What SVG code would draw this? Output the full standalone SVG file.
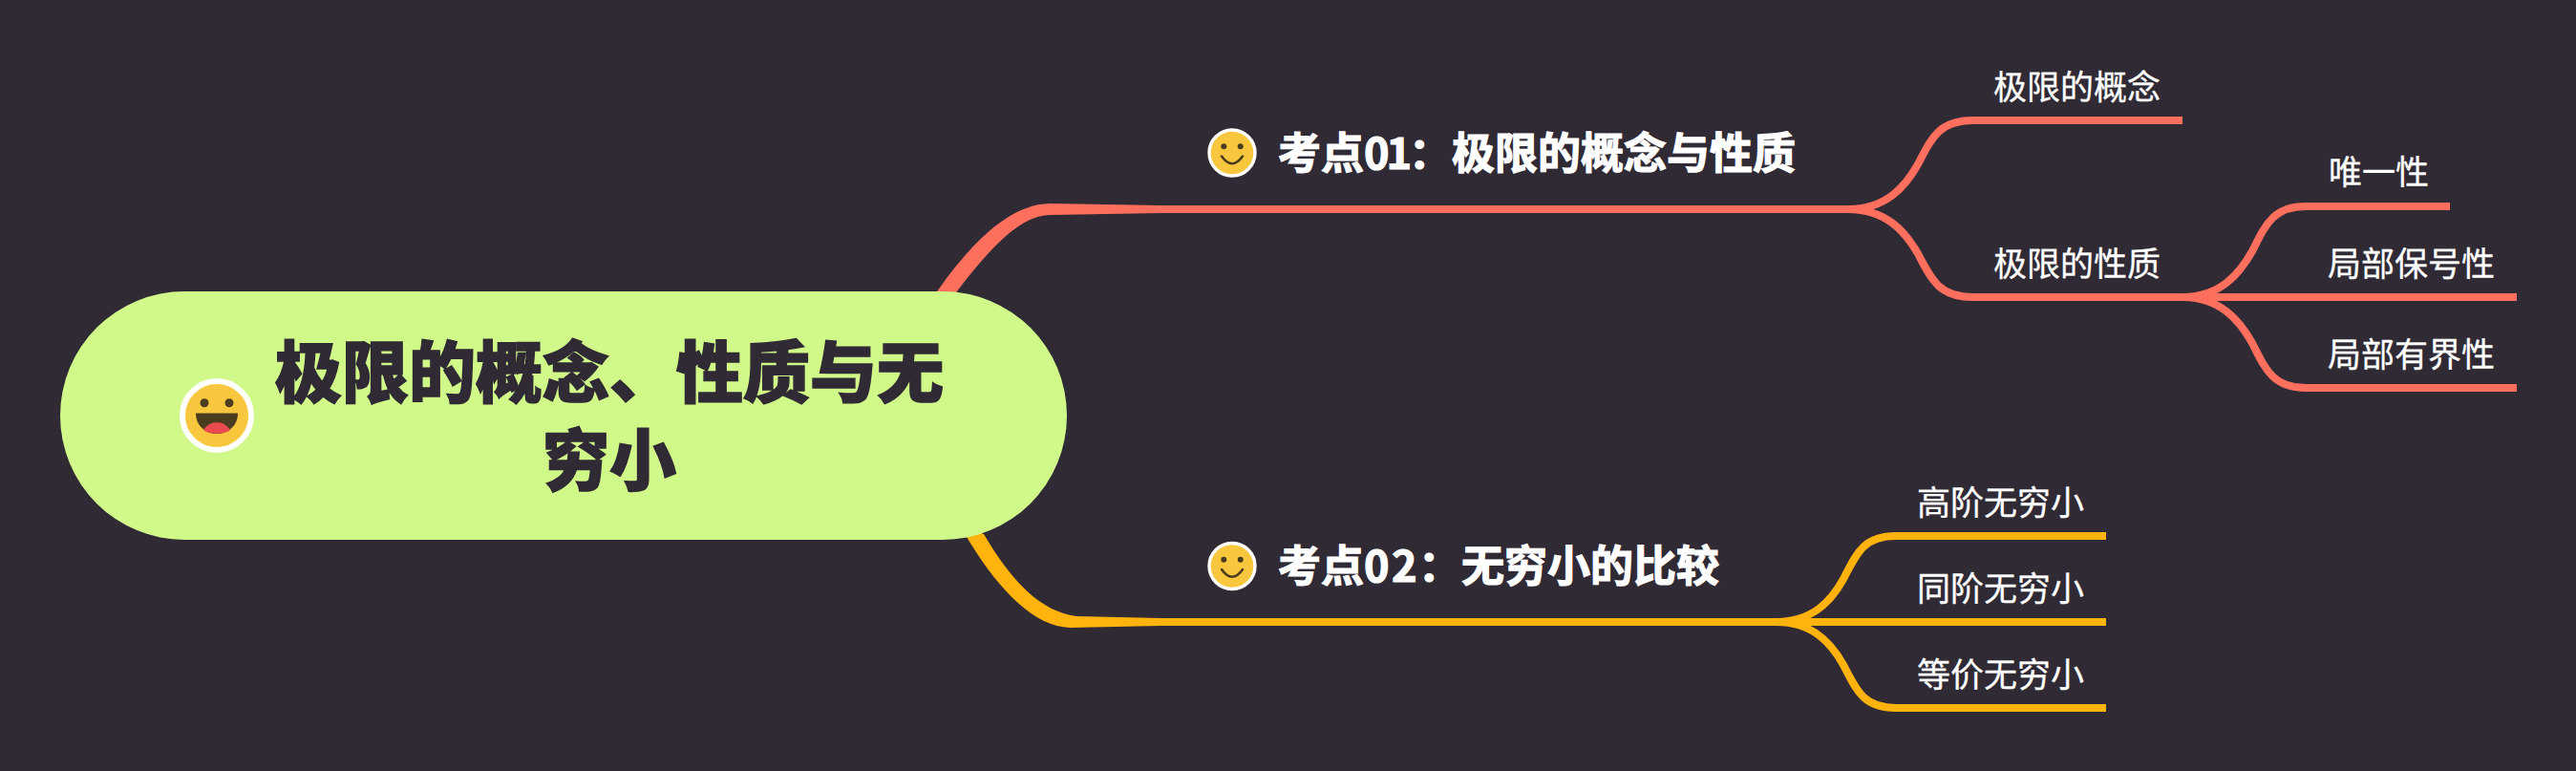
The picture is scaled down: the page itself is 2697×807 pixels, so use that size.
<svg xmlns="http://www.w3.org/2000/svg" width="2697" height="807" viewBox="0 0 2697 807">
<style>
text{font-family:"Noto Sans CJK SC","Noto Sans",sans-serif}
.root{font-size:70px;font-weight:900;fill:#302a35;stroke:#302a35;stroke-width:1.500px;text-anchor:middle}
.topic{font-size:45px;font-weight:700;fill:#fff;stroke:#fff;stroke-width:1.200px}
.leaf{font-size:35px;font-weight:400;fill:#fff;stroke:#fff;stroke-width:.3px}
.r{stroke:#ff6f5e}.y{stroke:#ffb30c}
.c path{fill:none;stroke-width:8}
.face{fill:#f9c73d;stroke:#fff}
.dark{fill:#4a3c1e}
</style>
<defs>
<g id="smile"><circle class="face" r="24" stroke-width="3.400"/><circle class="dark" cx="-8.700" cy="-6.700" r="3"/><circle class="dark" cx="8.700" cy="-6.700" r="3"/><path d="M-11,3.500Q0,19 11,3.500" fill="none" stroke="#4a3c1e" stroke-width="2.600" stroke-linecap="round"/></g>
</defs>
<rect width="2697" height="807" fill="#302a35"/>
<g id="connectors" class="c">
<path d="M975,314C1018,250 1060,213 1100,213L1215,215V223L1100,225C1070,225 1040,255 1002,305L995,318Z" style="fill:#ff6f5e;stroke:none"/>
<path d="M1005,550C1040,612 1080,656 1120,657L1215,655V647L1127,645C1090,640 1060,610 1030,559Z" style="fill:#ffb30c;stroke:none"/>
<path class="r" d="M1215,219H1935"/>
<path class="r" d="M1935,219C1975,219 1995,195 2008,172C2022,145 2030,126 2065,126H2285"/>
<path class="r" d="M1935,219C1975,219 1995,243 2008,265.500C2022,292 2030,311 2065,311H2285"/>
<path class="r" d="M2285,311C2325,311 2345,286 2358,263C2372,235 2380,216 2414,216H2565"/>
<path class="r" d="M2285,311H2635"/>
<path class="r" d="M2285,311C2325,311 2345,336 2358,359C2372,387 2380,406 2414,406H2635"/>
<path class="y" d="M1215,651H1860"/>
<path class="y" d="M1860,651C1898.500,651 1918,628 1930,606C1944,579 1951,561 1985,561H2205"/>
<path class="y" d="M1860,651H2205"/>
<path class="y" d="M1860,651C1898.500,651 1918,674 1930,696C1944,723 1951,741 1985,741H2205"/>
</g>
<g id="root">
<rect x="63" y="305" width="1054" height="260" rx="130" fill="#d1f98a"/>
<g transform="translate(227,435)"><circle r="36" fill="#f9c73d" stroke="#fff" stroke-width="6"/><circle class="dark" cx="-13" cy="-13.300" r="4.500"/><circle class="dark" cx="13" cy="-13.300" r="4.500"/><path class="dark" d="M-22,-2.500H22C22,12 10,19 0,19S-22,12 -22,-2.500Z"/><path d="M-14,15C-10,9 -5,7.300 0,7.300S10,9 14,15C9,20 -9,20 -14,15Z" fill="#eb4b4f"/></g>
<text class="root" x="638" y="416">极限的概念、性质与无</text>
<text class="root" x="638" y="508">穷小</text>
</g>
<g id="topic1"><use href="#smile" x="1290" y="160"/><text class="topic" x="1338" y="177">考点<tspan letter-spacing="-3">01</tspan><tspan x="1475">：</tspan><tspan x="1520">极限的概念与性质</tspan></text></g>
<g id="topic2"><use href="#smile" x="1290" y="592.500"/><text class="topic" x="1338" y="609">考点<tspan letter-spacing="2.500">02</tspan><tspan x="1485">：</tspan><tspan x="1530">无穷小的比较</tspan></text></g>
<g id="n1"><text class="leaf" x="2087" y="104">极限的概念</text></g>
<g id="n2"><text class="leaf" x="2087" y="289">极限的性质</text></g>
<g id="n3"><text class="leaf" x="2438" y="193">唯一性</text></g>
<g id="n4"><text class="leaf" x="2437" y="289">局部保号性</text></g>
<g id="n5"><text class="leaf" x="2437" y="384">局部有界性</text></g>
<g id="n6"><text class="leaf" x="2007" y="539">高阶无穷小</text></g>
<g id="n7"><text class="leaf" x="2007" y="629">同阶无穷小</text></g>
<g id="n8"><text class="leaf" x="2007" y="719">等价无穷小</text></g>
</svg>
